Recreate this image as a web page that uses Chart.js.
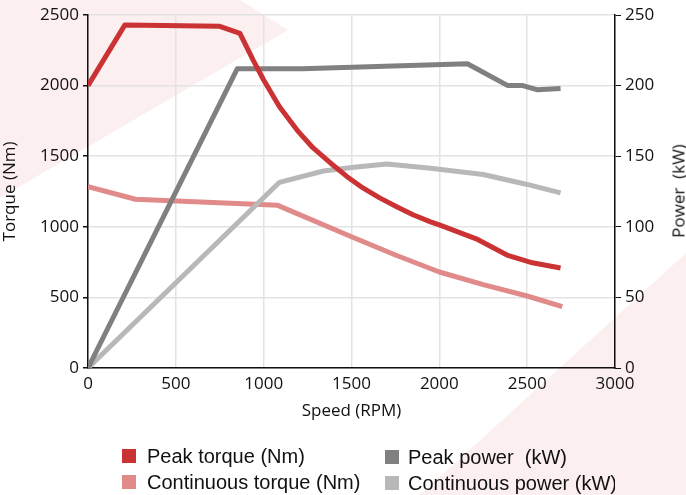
<!DOCTYPE html>
<html>
<head>
<meta charset="utf-8">
<script src="https://cdn.jsdelivr.net/npm/chart.js@4"></script>
<style>
  html, body { margin: 0; padding: 0; background: #fff; }
  #wrap { position: relative; width: 686px; height: 495px; overflow: hidden; }
  #c { position: absolute; left: 0; top: 0; }
  #legend { position: absolute; left: 0; top: 0; width: 615px; height: 495px; overflow: hidden; }
  .lg { position: absolute; font-family: "Liberation Sans", Arial, sans-serif; font-size: 20px; color: #111; white-space: pre; line-height: 23px; }
  .box { position: absolute; width: 14px; height: 14px; }
  #ptitle { position: absolute; left: 678px; top: 191px; transform: translate(-50%, -50%) rotate(-90deg); font-family: "Open Sans", sans-serif; font-size: 17px; color: #111; white-space: pre; }
</style>
</head>
<body>
<div id="wrap">
  <canvas id="c" width="686" height="495"></canvas>
  <div id="ptitle">Power  (kW)</div>
  <div id="legend"></div>
</div>
<script>
// speed (RPM) and values
const peakTorqueRpm = [0, 210, 750, 865, 940, 1000, 1090, 1190, 1280, 1380, 1475, 1565, 1660, 1760, 1850, 1950, 2000, 2210, 2385, 2530, 2690];
const peakTorque    = [2000, 2430, 2420, 2370, 2180, 2040, 1850, 1685, 1560, 1452, 1355, 1275, 1205, 1140, 1085, 1035, 1013, 915, 800, 745, 708];

const contTorqueRpm = [0, 270, 1080, 1500, 1750, 2000, 2250, 2500, 2700];
const contTorque    = [1285, 1195, 1152, 930, 800, 680, 590, 510, 435];

const peakPowerRpm = [0, 850, 1220, 2160, 2390, 2475, 2560, 2690];
const peakPower    = [0, 212, 212, 215.5, 200, 200, 197, 198];

const contPowerRpm = [0, 1090, 1340, 1500, 1700, 1950, 2250, 2500, 2690];
const contPower    = [0, 131.5, 139.5, 142, 144.5, 141.5, 137, 130, 124];

const xTicks = [0, 500, 1000, 1500, 2000, 2500, 3000];

function pts(xs, ys) { return xs.map((x, i) => ({ x: x, y: ys[i] })); }

const bgShapes = {
  id: 'bgShapes',
  beforeDraw(chart) {
    const ctx = chart.ctx;
    ctx.save();
    ctx.fillStyle = '#fcefef';
    ctx.beginPath();
    ctx.moveTo(0, 0); ctx.lineTo(240, 0); ctx.lineTo(288, 30); ctx.lineTo(0, 198);
    ctx.closePath(); ctx.fill();
    ctx.beginPath();
    ctx.moveTo(686, 253); ctx.lineTo(686, 495); ctx.lineTo(420, 495);
    ctx.closePath(); ctx.fill();
    ctx.restore();
  }
};

const font = { family: 'Open Sans', size: 17 };
const plain = v => String(v);

const chart = new Chart(document.getElementById('c'), {
  type: 'line',
  data: {
    datasets: [
      { label: 'Peak torque (Nm)', data: pts(peakTorqueRpm, peakTorque), borderColor: '#cb3234', yAxisID: 'y', order: 0 },
      { label: 'Continuous torque (Nm)', data: pts(contTorqueRpm, contTorque), borderColor: '#e08a8a', yAxisID: 'y', order: 3 },
      { label: 'Peak power  (kW)', data: pts(peakPowerRpm, peakPower), borderColor: '#808080', yAxisID: 'y1', order: 1 },
      { label: 'Continuous power (kW)', data: pts(contPowerRpm, contPower), borderColor: '#b8b8b8', yAxisID: 'y1', order: 2 }
    ]
  },
  options: {
    responsive: false,
    animation: false,
    elements: { point: { radius: 0 }, line: { borderWidth: 5, tension: 0, borderJoinStyle: 'round' } },
    layout: { padding: { top: 15, bottom: 70, left: 0, right: 0 } },
    plugins: { legend: { display: false }, tooltip: { enabled: false } },
    scales: {
      x: {
        type: 'linear', min: 0, max: 3000,
        afterBuildTicks(s) { s.ticks = xTicks.map(v => ({ value: v })); },
        grid: { color: '#e3e3e3', lineWidth: 1.5, drawTicks: false },
        border: { color: '#111', width: 1.5 },
        ticks: { color: '#111', font: font, padding: 6, maxRotation: 0, callback: plain },
        title: { display: true, text: 'Speed (RPM)', color: '#111', font: font, padding: { top: 6 } },
        afterFit(s) { s.height = 57; }
      },
      y: {
        position: 'left', min: 0, max: 2500,
        ticks: { stepSize: 500, color: '#111', font: font, padding: 4, callback: plain },
        grid: { color: '#e3e3e3', lineWidth: 1.5, tickLength: 5, tickColor: '#111' },
        border: { color: '#111', width: 1.5 },
        title: { display: true, text: 'Torque (Nm)', color: '#111', font: font, padding: 0 },
        afterFit(s) { s.width = 88; }
      },
      y1: {
        position: 'right', min: 0, max: 250,
        ticks: { stepSize: 50, color: '#111', font: font, padding: 4, callback: plain },
        grid: { drawOnChartArea: false, tickLength: 6, tickColor: '#111' },
        border: { color: '#111', width: 1.5 },
        afterFit(s) { s.width = 71; }
      }
    }
  },
  plugins: [bgShapes]
});

// legend built from the datasets (two columns, last label clipped like the original)
const legendPos = [
  { bx: 122, by: 449, tx: 147, ty: 444.6 },
  { bx: 122, by: 475, tx: 147, ty: 470.6 },
  { bx: 385, by: 450, tx: 408, ty: 445.6 },
  { bx: 385, by: 476, tx: 408, ty: 471.6 }
];
const lg = document.getElementById('legend');
chart.data.datasets.forEach((d, i) => {
  const p = legendPos[i];
  const b = document.createElement('div');
  b.className = 'box';
  b.style.left = p.bx + 'px'; b.style.top = p.by + 'px'; b.style.background = d.borderColor;
  lg.appendChild(b);
  const t = document.createElement('div');
  t.className = 'lg';
  t.style.left = p.tx + 'px'; t.style.top = p.ty + 'px';
  t.textContent = d.label;
  lg.appendChild(t);
});
</script>
</body>
</html>
